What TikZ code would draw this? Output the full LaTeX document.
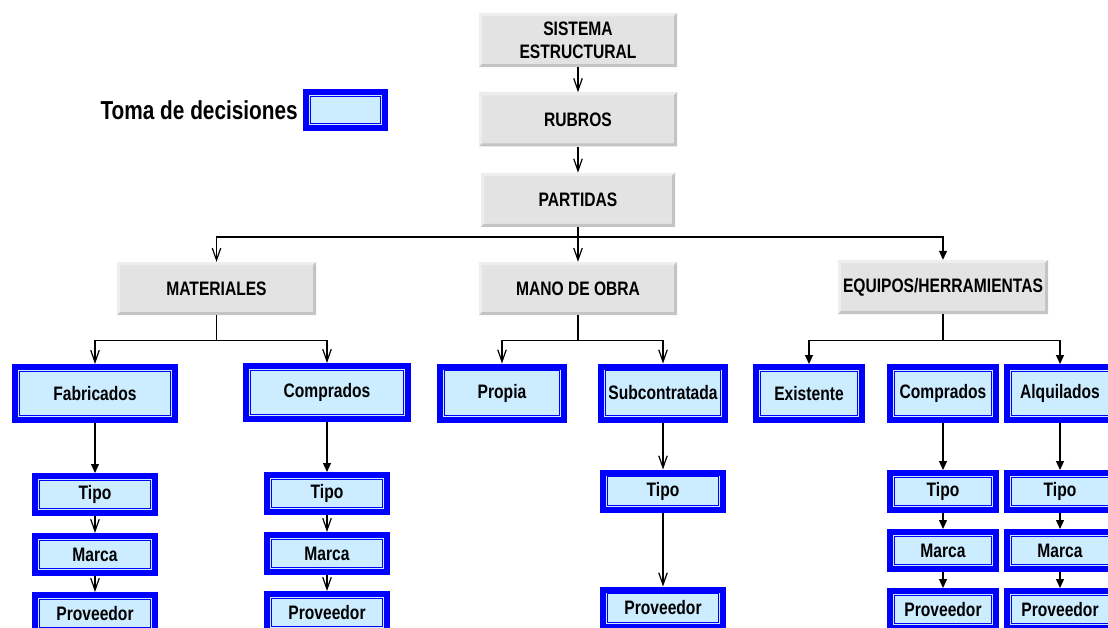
\documentclass[tikz,border=0pt]{standalone}
\usepackage{fontspec}
\setmainfont[FakeStretch=0.8]{Liberation Sans}
\usetikzlibrary{positioning,arrows.meta}

\definecolor{hdrgrey}{HTML}{E3E3E3}
\definecolor{bevdark}{HTML}{C4C4C4}
\definecolor{bevlight}{HTML}{EEEEEE}
\definecolor{decfill}{HTML}{CCECFF}
\definecolor{decblue}{HTML}{0000FF}

\begin{document}
\begin{tikzpicture}[
  x=1pt, y=-1pt,
  font=\fontsize{19.5}{23}\selectfont\bfseries,
  hdr/.style={fill=hdrgrey, minimum width=198pt, minimum height=54pt, inner sep=1pt, align=center,
    path picture={
      \fill[bevlight] (path picture bounding box.south west) |- (path picture bounding box.north east)
        -- ++(-3pt,-3pt) -| ([shift={(3pt,3pt)}]path picture bounding box.south west) -- cycle;
      \fill[bevdark] (path picture bounding box.south west) -| (path picture bounding box.north east)
        -- ++(-3pt,-3pt) |- ([shift={(3pt,3pt)}]path picture bounding box.south west) -- cycle;
    }},
  dec/.style={draw=decblue, line width=6pt, fill=decfill, inner sep=1pt,
    path picture={\draw[decblue, line width=1.2pt]
      ([shift={(4.2pt,-4.2pt)}]path picture bounding box.north west) rectangle
      ([shift={(-4.2pt,4.2pt)}]path picture bounding box.south east);}},
  decA/.style={dec, minimum height=53pt},
  decB/.style={dec, minimum width=120pt, minimum height=37pt},
  conn/.style={line width=1.2pt},
  barb/.style={conn, -{Straight Barb[length=12pt,width=8.5pt]}},
  tri/.style={conn, -{Triangle[length=9pt,width=8pt]}}
]
\useasboundingbox (0,0) rectangle (1108,627);
% top column
\node[hdr] (sis) at (578,40) {SISTEMA\\ESTRUCTURAL};
\node[hdr, below=25pt of sis] (rub) {RUBROS};
\node[hdr, below=26pt of rub, minimum width=194pt] (part) {PARTIDAS};
% legend
\node[dec, minimum width=79pt, minimum height=36pt] (legbox) at (345.5,110) {};
\node[left=5pt of legbox, inner sep=0pt, font=\fontsize{26}{30}\selectfont\bfseries] (legtxt) {Toma de decisiones};
% resources
\node[hdr, minimum width=199pt, minimum height=53pt] (mat) at (216.5,288.5) {MATERIALES};
\node[hdr, minimum height=53pt] (mano) at (578,288.5) {MANO DE OBRA};
\node[hdr, minimum width=210pt] (equ) at (943,287) {EQUIPOS/HERRAMIENTAS};
% decisions
\node[decA, minimum width=160pt] (fab) at (95,393.5) {Fabricados};
\node[decA, minimum width=162pt] (comM) at (327,392.5) {Comprados};
\node[decA, minimum width=124pt] (prop) at (502,393) {Propia};
\node[decA, minimum width=124pt] (sub) at (663,393) {Subcontratada};
\node[decA, minimum width=106pt] (exi) at (809,393.5) {Existente};
\node[decA, minimum width=106pt] (comE) at (943,393.5) {Comprados};
\node[decA, minimum width=106pt] (alq) at (1060,393.5) {Alquilados};
% chains
\node[decB, below=50pt of fab] (tipoF) {Tipo};
\node[decB, below=17pt of tipoF] (marF) {Marca};
\node[decB, below=16pt of marF] (provF) {Proveedor};
\node[decB, below=50pt of comM] (tipoC) {Tipo};
\node[decB, below=17pt of tipoC] (marC) {Marca};
\node[decB, below=16pt of marC] (provC) {Proveedor};
\node[decB, below=47pt of sub] (tipoS) {Tipo};
\node[decB, below=74pt of tipoS] (provS) {Proveedor};
\node[decB, minimum width=106pt, below=47pt of comE] (tipoE) {Tipo};
\node[decB, minimum width=106pt, below=16pt of tipoE] (marE) {Marca};
\node[decB, minimum width=106pt, below=16pt of marE] (provE) {Proveedor};
\node[decB, minimum width=106pt, below=47pt of alq] (tipoA) {Tipo};
\node[decB, minimum width=106pt, below=16pt of tipoA] (marA) {Marca};
\node[decB, minimum width=106pt, below=16pt of marA] (provA) {Proveedor};
% connectors
\draw[barb] (sis) -- (rub);
\draw[barb] (rub) -- (part);
\draw[barb] (part.south) -- ++(0,10) -| (mat.north);
\draw[barb] (part) -- (mano);
\draw[tri] (part.south) -- ++(0,10) -| (equ.north);
\draw[barb] (mat.south) -- ++(0,25) -| (fab.north);
\draw[barb] (mat.south) -- ++(0,25) -| (comM.north);
\draw[barb] (mano.south) -- ++(0,25) -| (prop.north);
\draw[barb] (mano.south) -- ++(0,25) -| (sub.north);
\draw[tri] (equ.south) -- ++(0,26) -| (exi.north);
\draw[tri] (equ.south) -- ++(0,26) -| (alq.north);
\draw[tri] (fab) -- (tipoF);
\draw[barb] (tipoF) -- (marF);
\draw[barb] (marF) -- (provF);
\draw[tri] (comM) -- (tipoC);
\draw[barb] (tipoC) -- (marC);
\draw[barb] (marC) -- (provC);
\draw[barb] (sub) -- (tipoS);
\draw[barb] (tipoS) -- (provS);
\draw[tri] (comE) -- (tipoE);
\draw[tri] (tipoE) -- (marE);
\draw[tri] (marE) -- (provE);
\draw[tri] (alq) -- (tipoA);
\draw[tri] (tipoA) -- (marA);
\draw[tri] (marA) -- (provA);
\end{tikzpicture}
\end{document}
